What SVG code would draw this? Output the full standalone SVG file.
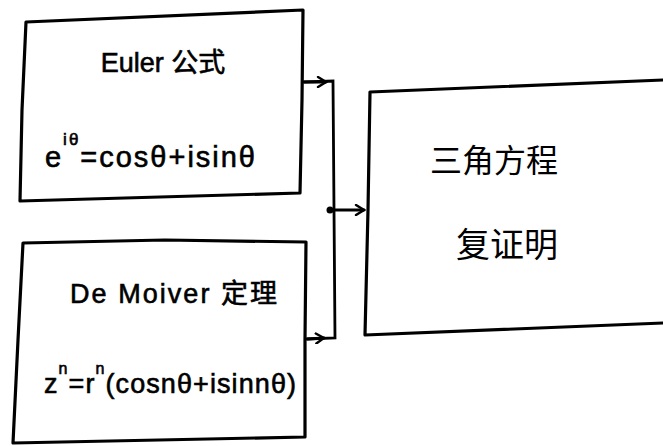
<svg xmlns="http://www.w3.org/2000/svg" width="663" height="446" viewBox="0 0 663 446">
<style>
.box{fill:none;stroke:#000;stroke-width:3.2;stroke-linejoin:round;stroke-linecap:round}
.conn{fill:none;stroke:#000;stroke-width:2.8;stroke-linecap:round}
.t{font-family:"Liberation Sans","Noto Sans CJK SC",sans-serif;fill:#000;stroke:#000;stroke-width:0.6}
.cjk{font-family:"Noto Sans CJK SC",sans-serif;fill:#000}
</style>
<defs>
<marker id="ah" viewBox="0 0 12 12" refX="10" refY="6" markerWidth="12" markerHeight="12" markerUnits="userSpaceOnUse" orient="auto">
<path d="M2,1 L10,6 L2,11" fill="none" stroke="#000" stroke-width="2.4" stroke-linecap="round"/>
</marker>
</defs>
<rect width="663" height="446" fill="#fff"/>
<g id="euler">
<path class="box" d="M26,22 L303,10 L302,100 L300,193 L20,201 L22,110 Z"/>
<text class="t" x="163" y="72" font-size="27" text-anchor="middle">Euler <tspan class="cjk">公式</tspan></text>
<text class="t" x="45" y="167" font-size="29" textLength="210">e<tspan font-size="17" dy="-22">iθ</tspan><tspan dy="22">=cosθ+isinθ</tspan></text>
</g>
<g id="demoivre">
<path class="box" d="M23,243 L165,240 L306,242 L305,340 L305,437 L13,443 L18,340 Z"/>
<text class="t" x="70" y="303" font-size="27" textLength="207">De  Moiver <tspan class="cjk">定理</tspan></text>
<text class="t" x="44" y="393" font-size="27" textLength="252">z<tspan font-size="16" dy="-19">n</tspan><tspan dy="19">=r</tspan><tspan font-size="16" dy="-19">n</tspan><tspan dy="19">(cosnθ+isinnθ)</tspan></text>
</g>
<g id="result">
<path class="box" d="M370,92 L663,80 M663,323 L365,335 L368,210 L370,92"/>
<text class="cjk" x="494" y="172" font-size="32" text-anchor="middle">三角方程</text>
<text class="cjk" x="507" y="257" font-size="34" text-anchor="middle">复证明</text>
</g>
<g id="connectors">
<path class="conn" d="M304,82 L333,81 L335,338 L307,339"/>
<path class="conn" d="M304,82 L326,82" marker-end="url(#ah)"/>
<path class="conn" d="M307,339 L324,338" marker-end="url(#ah)"/>
<path class="conn" d="M329,210 L364,210" marker-end="url(#ah)"/>
<circle cx="330" cy="210" r="3.5" fill="#000"/>
</g>
</svg>
